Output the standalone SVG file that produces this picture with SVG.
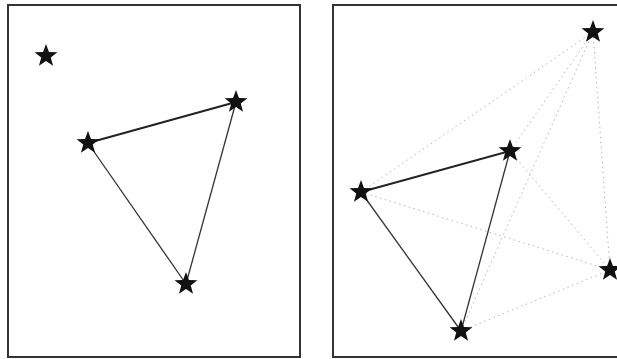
<svg xmlns="http://www.w3.org/2000/svg" xmlns:xlink="http://www.w3.org/1999/xlink" width="617" height="359" viewBox="0 0 617 359">
<style>
.panel{fill:#fff;stroke:#333;stroke-width:2}
.solid{stroke:#333;stroke-width:1.3;fill:none}
.thick{stroke:#222;stroke-width:2;fill:none}
.dot{stroke:#b5b5b5;stroke-width:1;stroke-dasharray:1.5 3.5;fill:none}
.star{fill:#111}
</style>
<defs>
<polygon id="star" class="star" points="0,-12 2.94,-4.05 11.41,-3.71 4.76,1.55 7.05,9.71 0,5 -7.05,9.71 -4.76,1.55 -11.41,-3.71 -2.94,-4.05"/>
</defs>
<rect width="617" height="359" fill="#fff"/>
<rect id="panel-left" class="panel" x="8" y="5" width="292" height="352"/>
<rect id="panel-right" class="panel" x="333" y="5" width="300" height="352"/>
<g id="connectors">
<line class="thick" x1="88" y1="143" x2="236" y2="102"/>
<line class="solid" x1="88" y1="143" x2="186" y2="284"/>
<line class="solid" x1="236" y1="102" x2="186" y2="284"/>
<line class="thick" x1="361" y1="192" x2="510" y2="151"/>
<line class="solid" x1="361" y1="192" x2="461" y2="331"/>
<line class="solid" x1="510" y1="151" x2="461" y2="331"/>
<line class="dot" x1="361" y1="192" x2="593" y2="32"/>
<line class="dot" x1="510" y1="151" x2="593" y2="32"/>
<line class="dot" x1="461" y1="331" x2="593" y2="32"/>
<line class="dot" x1="593" y1="32" x2="610" y2="270"/>
<line class="dot" x1="361" y1="192" x2="610" y2="270"/>
<line class="dot" x1="510" y1="151" x2="610" y2="270"/>
<line class="dot" x1="461" y1="331" x2="610" y2="270"/>
</g>
<g id="n-left-a"><use xlink:href="#star" x="46" y="56"/></g>
<g id="n-left-b"><use xlink:href="#star" x="88" y="143"/></g>
<g id="n-left-c"><use xlink:href="#star" x="236" y="102"/></g>
<g id="n-left-d"><use xlink:href="#star" x="186" y="284"/></g>
<g id="n-right-l"><use xlink:href="#star" x="361" y="192"/></g>
<g id="n-right-m"><use xlink:href="#star" x="510" y="151"/></g>
<g id="n-right-b"><use xlink:href="#star" x="461" y="331"/></g>
<g id="n-right-t"><use xlink:href="#star" x="593" y="32"/></g>
<g id="n-right-r"><use xlink:href="#star" x="610" y="270"/></g>
</svg>
